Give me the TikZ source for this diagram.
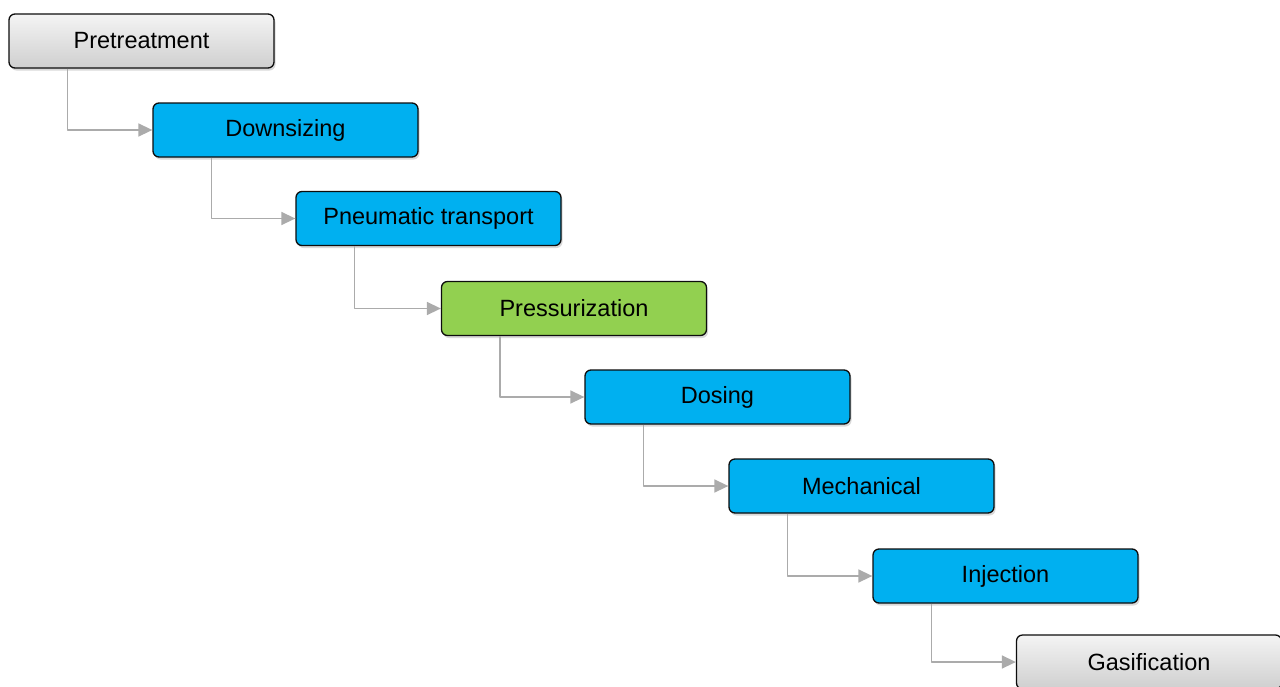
\documentclass[tikz,border=0pt]{standalone}
\usepackage{fontspec}
\setmainfont{Liberation Sans}
\usetikzlibrary{arrows.meta,shadows}
\definecolor{feedBlue}{HTML}{00B0F0}
\definecolor{feedGreen}{HTML}{92D050}
\definecolor{feedGreyTop}{HTML}{F4F4F4}
\definecolor{feedGreyBot}{HTML}{CFCFCF}
\definecolor{feedLine}{HTML}{ABABAB}
\definecolor{feedInk}{HTML}{0D0D0D}
\begin{document}
\begin{tikzpicture}[x=1pt,y=-1pt,>=Triangle,line join=round]
\useasboundingbox (0,0) rectangle (1280,686);
\clip (0,0) rectangle (1280,686);
\tikzset{stage/.style={draw=feedInk,line width=1.3pt,rounded corners=6pt,minimum width=265pt,minimum height=54pt,inner sep=0pt,text=black,font=\fontsize{23.5}{28}\selectfont,drop shadow={opacity=0.3,shadow xshift=1.5pt,shadow yshift=-2.5pt}},blue/.style={stage,fill=feedBlue},grey/.style={stage,top color=feedGreyTop,bottom color=feedGreyBot},link/.style={draw=feedLine,line width=1.5pt,-{Triangle[length=14pt,width=13pt]}}}
\node[grey] (pre) at (141.5,41) {Pretreatment};
\node[blue] (down) at (285.5,130) {Downsizing};
\node[blue] (pneu) at (428.5,218.5) {Pneumatic transport};
\node[stage,fill=feedGreen] (press) at (574,308.5) {Pressurization};
\node[blue] (dose) at (717.5,397) {Dosing};
\node[blue] (mech) at (861.5,486) {Mechanical};
\node[blue] (inj) at (1005.5,576) {Injection};
\node[grey] (gas) at (1149,662) {Gasification};
\foreach \a/\b in {pre/down,down/pneu,pneu/press,press/dose,dose/mech,mech/inj,inj/gas}
  \draw[link] ([xshift=59pt]\a.south west) |- (\b.west);
\end{tikzpicture}
\end{document}
